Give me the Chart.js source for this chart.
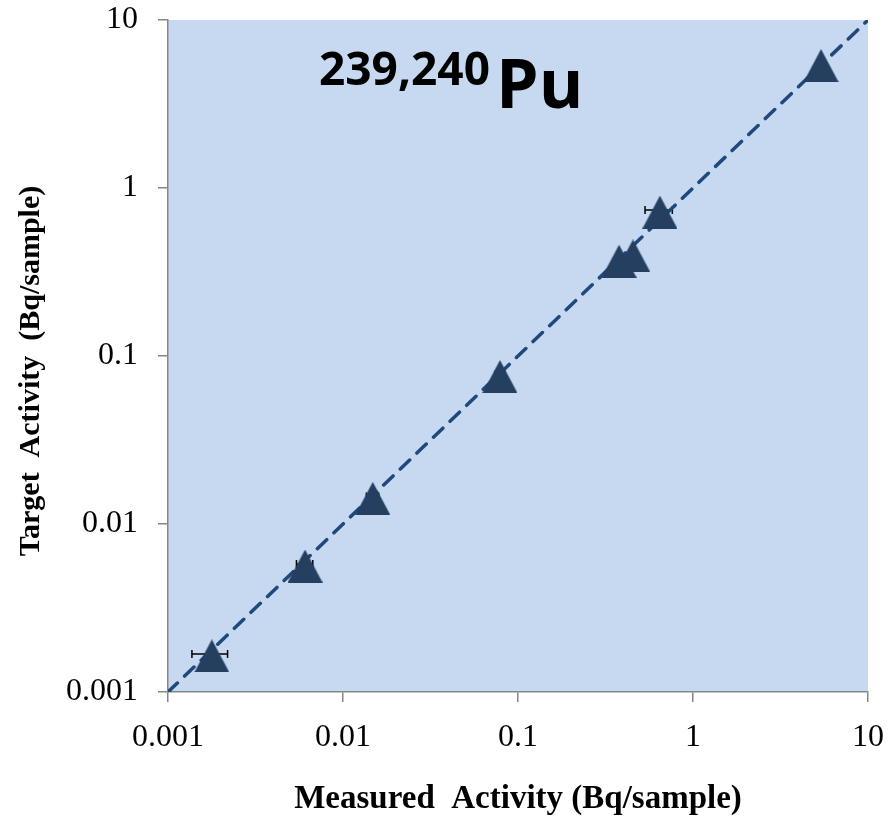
<!DOCTYPE html>
<html>
<head>
<meta charset="utf-8">
<script src="https://cdn.jsdelivr.net/npm/chart.js@4/dist/chart.umd.min.js"></script>
<style>
  html, body { margin: 0; padding: 0; background: #ffffff; }
  #wrap { width: 888px; height: 816px; }
</style>
</head>
<body>
<div id="wrap"><canvas id="pu-chart" width="888" height="816"></canvas></div>
<script>
/* Data */
const measured = [0.00178, 0.00607, 0.0148, 0.0789, 0.378, 0.454, 0.647, 5.39];
const target   = [0.00164, 0.00562, 0.0142, 0.0755, 0.367, 0.394, 0.719, 5.36];
const measuredErr = [0.00041, 0.00065, 0.0012, 0.005, 0.02, 0.025, 0.115, 0.3];
const refLineX = [0.001, 10];
const refLineY = [0.001, 10];
const tickValues = [0.001, 0.01, 0.1, 1, 10];
const tickLabels = ['0.001', '0.01', '0.1', '1', '10'];

/* Triangle marker, centred on its bounding box */
function makeTriangle(w, h, color) {
    const c = document.createElement('canvas');
    c.width = w; c.height = h;
    const g = c.getContext('2d');
    g.fillStyle = color;
    g.beginPath();
    g.moveTo(w / 2, 0);
    g.lineTo(w, h);
    g.lineTo(0, h);
    g.closePath();
    g.fill();
    return c;
}
const triangle = makeTriangle(35, 33, '#243f60');

/* Light blue plot area */
const plotBackground = {
    id: 'plotBackground',
    beforeDraw(chart) {
        const {ctx, chartArea: a} = chart;
        ctx.save();
        ctx.fillStyle = '#c6d9f1';
        ctx.fillRect(a.left, a.top, a.right - a.left, a.bottom - a.top);
        ctx.restore();
    }
};

/* Horizontal error bars behind the markers */
const errorBars = {
    id: 'errorBars',
    beforeDatasetsDraw(chart) {
        const {ctx, scales: {x, y}} = chart;
        ctx.save();
        ctx.strokeStyle = '#000000';
        ctx.lineWidth = 1.5;
        measured.forEach((m, i) => {
            const x0 = x.getPixelForValue(m - measuredErr[i]);
            const x1 = x.getPixelForValue(m + measuredErr[i]);
            const py = y.getPixelForValue(target[i]) - 2;
            ctx.beginPath();
            ctx.moveTo(x0, py); ctx.lineTo(x1, py);
            ctx.moveTo(x0, py - 4); ctx.lineTo(x0, py + 4);
            ctx.moveTo(x1, py - 4); ctx.lineTo(x1, py + 4);
            ctx.stroke();
        });
        ctx.restore();
    }
};

/* Nuclide label in the top of the plot */
const nuclideLabel = {
    id: 'nuclideLabel',
    afterDraw(chart) {
        const ctx = chart.ctx;
        ctx.save();
        ctx.fillStyle = '#000000';
        ctx.textBaseline = 'alphabetic';
        ctx.font = 'bold 46px "Open Sans"';
        ctx.fillText('239,240', 319, 85);
        const w = ctx.measureText('239,240').width;
        ctx.font = 'bold 68px "Open Sans"';
        ctx.fillText('Pu', 319 + w + 6, 108);
        ctx.restore();
    }
};

const axisColor = '#868686';
const serif = '"Liberation Serif", "Times New Roman", serif';
const tickFont = {family: serif, size: 32};

function decadeTicks(scale) {
    scale.ticks = tickValues.map(v => ({value: v}));
}

/* fixed box sizes, no extra room for overhanging labels */
function fitX(s) {
    s.height = 124;
    s.paddingLeft = 0; s.paddingRight = 0;
}
function fitY(s) {
    s.width = 168;
    s.paddingTop = 0; s.paddingBottom = 0;
}

const ctx = document.getElementById('pu-chart');
const puChart = new Chart(ctx, {
    type: 'scatter',
    data: {
        datasets: [{
            label: 'Pu',
            data: measured.map((m, i) => ({x: m, y: target[i]})),
            pointStyle: triangle,
            pointRadius: 18,
            order: 1
        }, {
            type: 'line',
            label: '1:1',
            data: refLineX.map((v, i) => ({x: v, y: refLineY[i]})),
            borderColor: '#1f497d',
            borderWidth: 3.5,
            borderDash: [13, 10],
            borderCapStyle: 'round',
            pointRadius: 0,
            fill: false,
            order: 2
        }]
    },
    options: {
        responsive: false,
        animation: false,
        layout: {padding: {top: 20, right: 20, left: 0, bottom: 0}},
        plugins: {
            legend: {display: false},
            tooltip: {enabled: false}
        },
        scales: {
            x: {
                type: 'logarithmic',
                min: 0.001,
                max: 10,
                afterBuildTicks: decadeTicks,
                afterFit: fitX,
                grid: {drawOnChartArea: false, drawTicks: true, tickLength: 10, color: axisColor, lineWidth: 1.5},
                border: {display: true, color: axisColor, width: 1.5},
                ticks: {
                    color: '#000000',
                    font: tickFont,
                    padding: 16,
                    maxRotation: 0,
                    callback: v => tickLabels[tickValues.indexOf(v)] ?? ''
                },
                title: {
                    display: true,
                    text: 'Measured  Activity (Bq/sample)',
                    color: '#000000',
                    font: {family: serif, size: 33, weight: 'bold', lineHeight: 1},
                    padding: {top: 0, bottom: 0}
                }
            },
            y: {
                type: 'logarithmic',
                min: 0.001,
                max: 10,
                afterBuildTicks: decadeTicks,
                afterFit: fitY,
                grid: {drawOnChartArea: false, drawTicks: true, tickLength: 10, color: axisColor, lineWidth: 1.5},
                border: {display: true, color: axisColor, width: 1.5},
                ticks: {
                    color: '#000000',
                    font: tickFont,
                    padding: 20,
                    callback: v => tickLabels[tickValues.indexOf(v)] ?? ''
                },
                title: {
                    display: true,
                    // trailing spaces nudge the centred title down a little
                    text: 'Target  Activity  (Bq/sample)    ',
                    color: '#000000',
                    font: {family: serif, size: 30, weight: 'bold', lineHeight: 1},
                    padding: {top: 16, bottom: 0}
                }
            }
        }
    },
    plugins: [plotBackground, errorBars, nuclideLabel]
});
</script>
</body>
</html>
